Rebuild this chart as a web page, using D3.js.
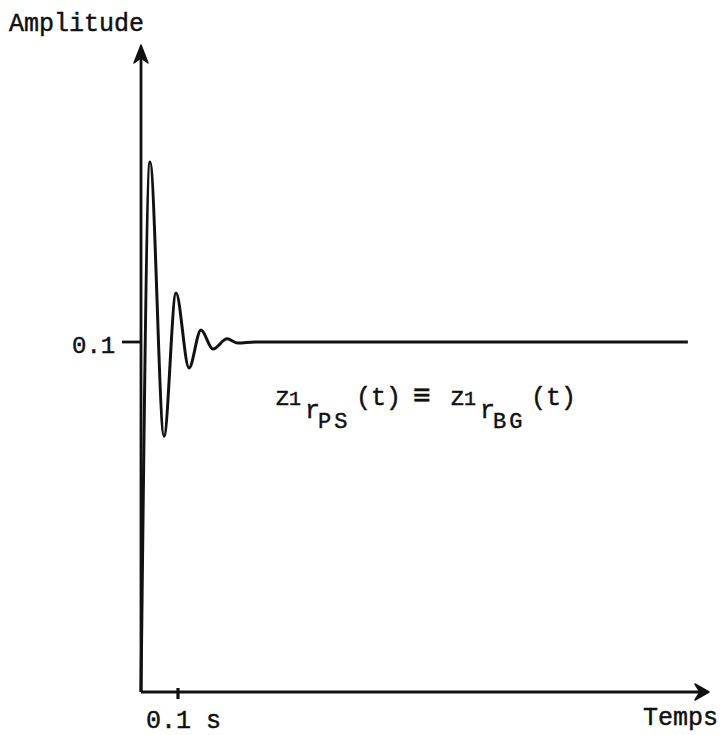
<!DOCTYPE html>
<html><head><meta charset="utf-8">
<script src="https://cdn.jsdelivr.net/npm/d3@7"></script>
<style>
html,body{margin:0;padding:0;background:#fff;}
svg text{font-family:"Liberation Mono","Courier New",monospace;fill:#111;stroke:#111;stroke-width:0.45px;}
</style></head>
<body><svg id="c" width="722" height="735"></svg>
<script>
// Damped response (time in s, amplitude)
const times = [0, 0.0243, 0.0622, 0.0946, 0.1297, 0.162, 0.1946, 0.2324, 0.262, 0.308, 0.36, 1.478];
const amps  = [0, 0.1514, 0.0731, 0.114, 0.0926, 0.1034, 0.098, 0.1009, 0.0997, 0.1, 0.1, 0.1];
const yTickValues = [0.1];
const yTickLabels = ["0.1"];
const xTickValues = [0.1];
const xTickLabels = ["0.1 s"];

const svg = d3.select("#c");
const x = d3.scaleLinear().domain([0, 0.1]).range([141, 178]);
const y = d3.scaleLinear().domain([0, 0.1]).range([692, 342]);
const ink = "#111";

// axes
svg.append("line").attr("x1", 141).attr("y1", y(0)).attr("x2", 141).attr("y2", 52)
  .attr("stroke", ink).attr("stroke-width", 2.8);
svg.append("line").attr("x1", 141).attr("y1", y(0)).attr("x2", 702).attr("y2", y(0))
  .attr("stroke", ink).attr("stroke-width", 2.8);
// arrow heads
svg.append("path").attr("d", "M141,45 L134,63 L141,58 L148,63 Z").attr("fill", ink)
  .attr("stroke", ink).attr("stroke-width", 1.5).attr("stroke-linejoin", "round");
svg.append("path").attr("d", "M709,692 L695,684 L700,692 L695,700 Z").attr("fill", ink)
  .attr("stroke", ink).attr("stroke-width", 1.5).attr("stroke-linejoin", "round");

// y ticks
yTickValues.forEach((v, i) => {
  svg.append("line").attr("x1", 122).attr("x2", 141).attr("y1", y(v)).attr("y2", y(v))
    .attr("stroke", ink).attr("stroke-width", 2.8);
  svg.append("text").attr("x", 72).attr("y", y(v) + 11).attr("font-size", 24)
    .text(yTickLabels[i]);
});
// x ticks
xTickValues.forEach((v, i) => {
  svg.append("line").attr("x1", x(v)).attr("x2", x(v)).attr("y1", 688).attr("y2", 699)
    .attr("stroke", ink).attr("stroke-width", 3.2);
  svg.append("text").attr("x", 146).attr("y", 728).attr("font-size", 25)
    .text(xTickLabels[i]);
});

// axis titles
svg.append("text").attr("x", 9).attr("y", 31).attr("font-size", 25).text("Amplitude");
svg.append("text").attr("x", 643).attr("y", 725).attr("font-size", 25).text("Temps");

// curve
const pts = times.map((t, i) => [x(t), y(amps[i])]);
svg.append("path").attr("d", d3.line().curve(d3.curveMonotoneX)(pts))
  .attr("fill", "none").attr("stroke", ink).attr("stroke-width", 3)
  .attr("stroke-linejoin", "round");

// formula  z1 rPS (t) ≡ z1 rBG (t)
const f = svg.append("g");
function part(xp, yp, size, txt, ls) {
  f.append("text").attr("x", xp).attr("y", yp).attr("font-size", size)
    .attr("letter-spacing", ls || 0).text(txt);
}
[[275, "PS"], [450, "BG"]].forEach(([x0, sub]) => {
  part(x0, 405, 25, "z");
  part(x0 + 14, 405, 20, "1");
  part(x0 + 30, 418, 25, "r");
  part(x0 + 43, 428, 22, sub, 3);
  part(x0 + 81, 405, 25, "(t)");
});
part(413, 405, 30, "\u2261");
</script></body></html>
